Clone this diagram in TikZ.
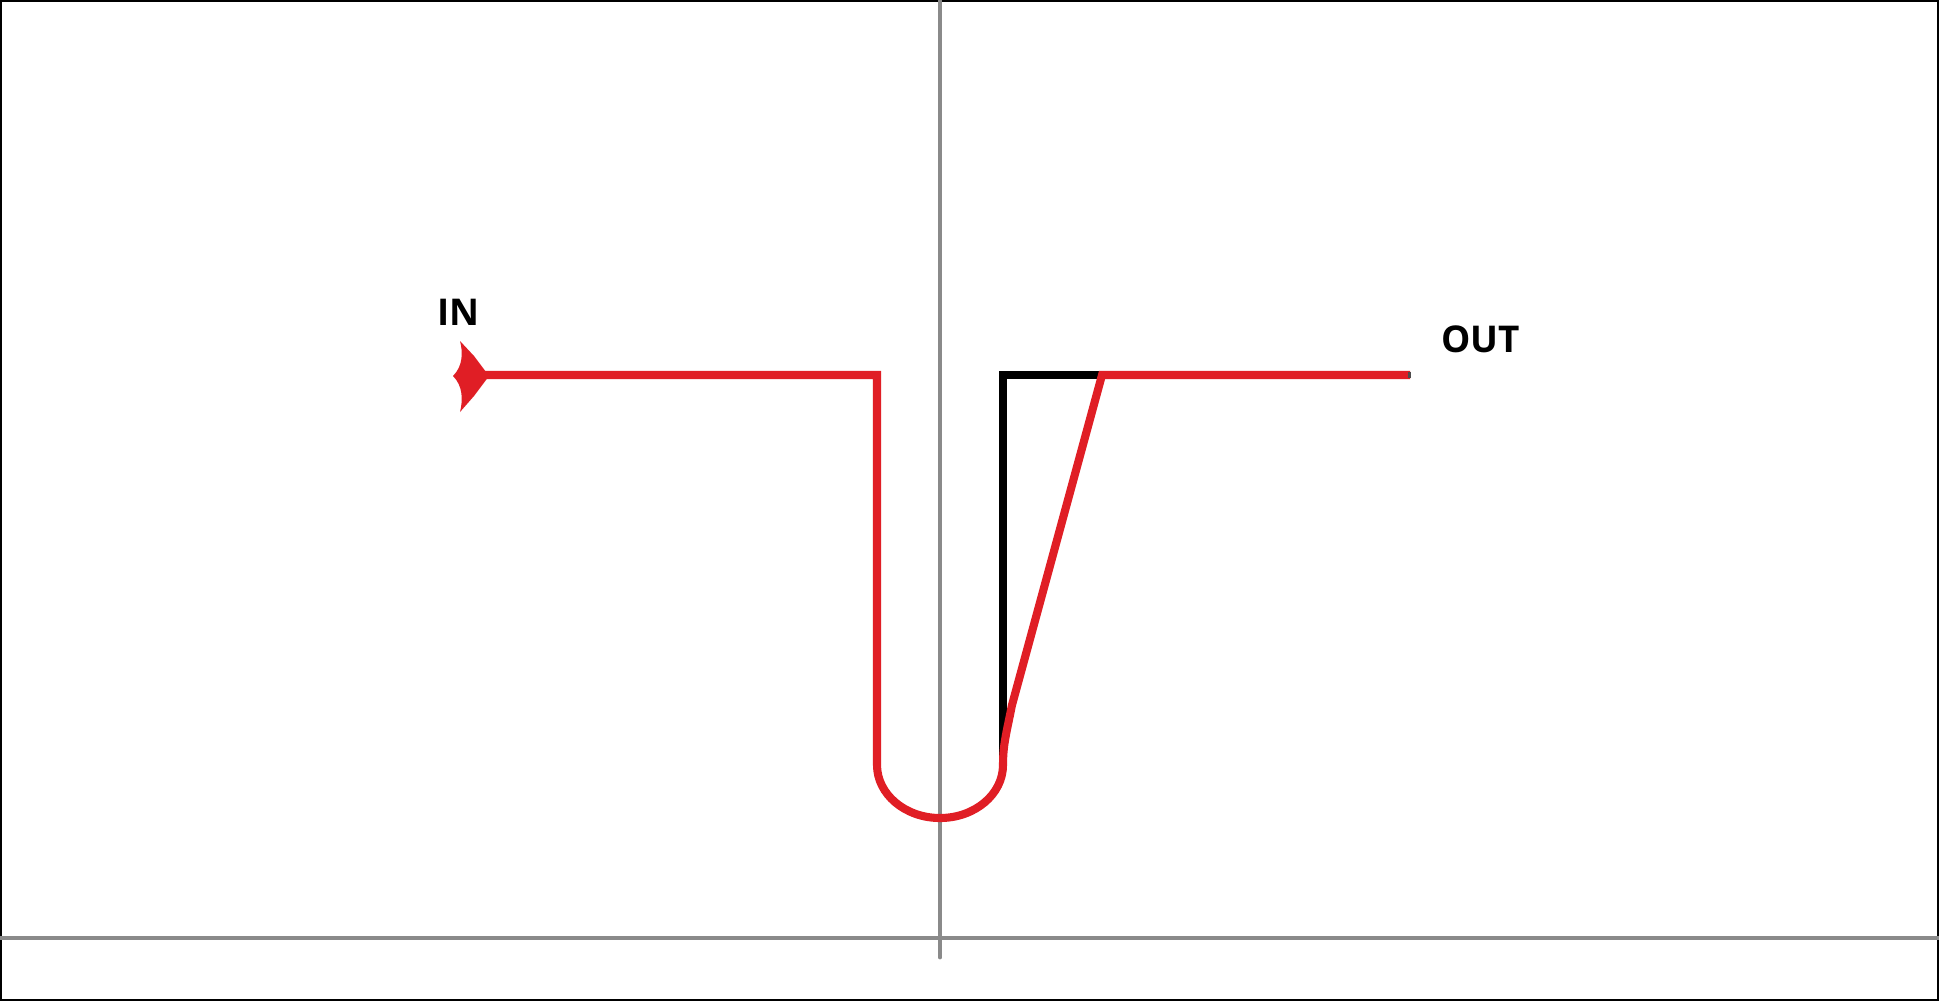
\documentclass[tikz,border=0pt]{standalone}
\usepackage{fontspec}
\setmainfont{Open Sans}
\definecolor{flowred}{HTML}{E01E25}
\definecolor{axisgrey}{HTML}{8A8A8A}
\tikzset{
  axisline/.style={draw=axisgrey,line width=2.8pt},
  redpath/.style={draw=flowred,line width=4.6pt,line join=miter},
  blackpath/.style={draw=black,line width=4.6pt,line join=miter},
  lbl/.style={font=\fontsize{21}{25}\selectfont\bfseries,inner sep=0pt}
}
\begin{document}
\begin{tikzpicture}[x=0.02cm,y=-0.02cm]
\useasboundingbox (0,0) rectangle (1939,1001);
\fill[white] (0,0) rectangle (1939,1001);
\draw[line width=1.2pt] (1,1) rectangle (1938,1000);
% axes
\draw[axisline] (0,938) -- (1939,938);
\draw[axisline,line cap=round] (940,0) -- (940,957);
% coordinates
\coordinate (start) at (466,375);
\coordinate (lc) at (877,375);
\coordinate (lb) at (877,765);
\coordinate (rb) at (1003,765);
\coordinate (rc) at (1003,375);
\coordinate (mj) at (1102,375);
\coordinate (end) at (1410,375);
% black path
\draw[blackpath] (1003,765) -- (rc) -- (mj);
% red path
\draw[redpath] (start) -- (lc) -- (lb) arc[start angle=180,end angle=0,x radius=63,y radius=53]
  .. controls (1003,745) and (1006,735) .. (1012,705) -- (mj) -- (end);
\fill[black!70] (1408,372) rectangle (1411,378);
% arrowhead
\fill[flowred] (489,376) -- (474,356) -- (460,341)
  .. controls (463,352) and (463,366) .. (453,376)
  .. controls (463,386) and (463,400) .. (460,412)
  -- (474,396) -- cycle;
% labels
\node[lbl,anchor=base west] (in) at (437,325) {IN};
\node[lbl,anchor=base west] (out) at (1441,352) {OUT};
\end{tikzpicture}
\end{document}
